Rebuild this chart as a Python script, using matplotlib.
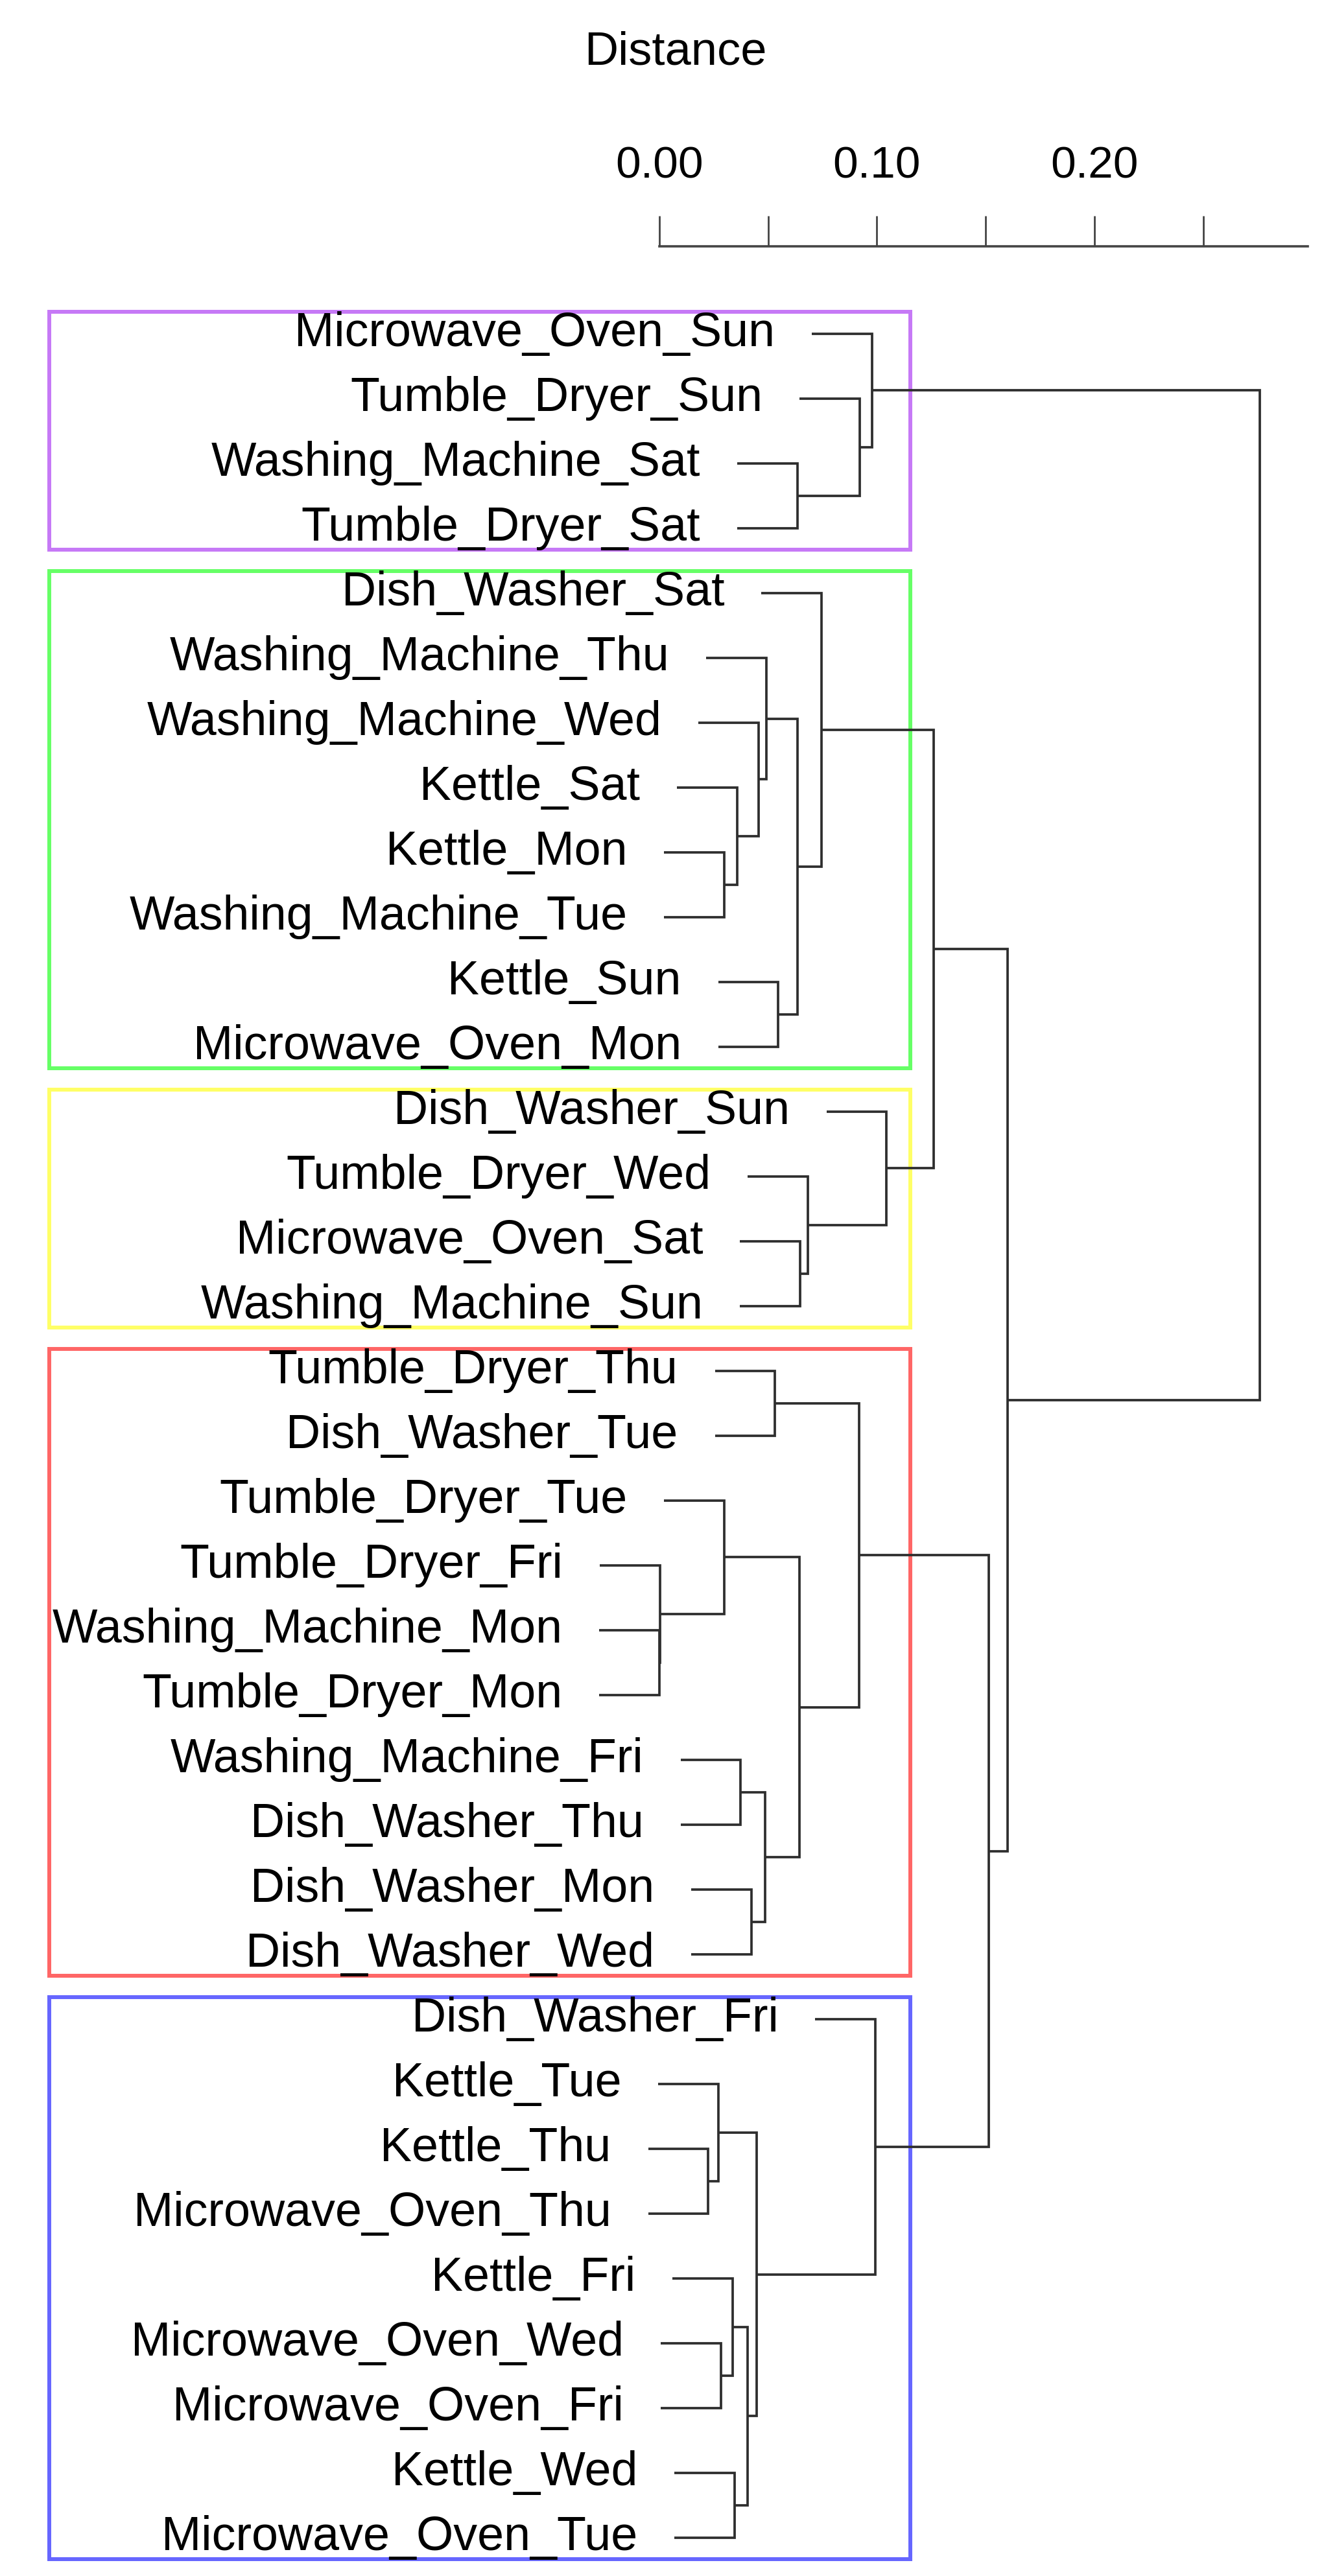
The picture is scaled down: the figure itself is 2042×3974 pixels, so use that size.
import numpy as np
import matplotlib
matplotlib.use("Agg")
import matplotlib.pyplot as plt
from matplotlib.patches import Rectangle
from matplotlib.transforms import offset_copy

plt.rcParams["font.family"] = ["Liberation Sans", "DejaVu Sans"]

# leaves in plotted order (top to bottom)
labels = [
    "Microwave_Oven_Sun", "Tumble_Dryer_Sun", "Washing_Machine_Sat", "Tumble_Dryer_Sat",
    "Dish_Washer_Sat", "Washing_Machine_Thu", "Washing_Machine_Wed", "Kettle_Sat",
    "Kettle_Mon", "Washing_Machine_Tue", "Kettle_Sun", "Microwave_Oven_Mon",
    "Dish_Washer_Sun", "Tumble_Dryer_Wed", "Microwave_Oven_Sat", "Washing_Machine_Sun",
    "Tumble_Dryer_Thu", "Dish_Washer_Tue", "Tumble_Dryer_Tue", "Tumble_Dryer_Fri",
    "Washing_Machine_Mon", "Tumble_Dryer_Mon", "Washing_Machine_Fri", "Dish_Washer_Thu",
    "Dish_Washer_Mon", "Dish_Washer_Wed", "Dish_Washer_Fri", "Kettle_Tue",
    "Kettle_Thu", "Microwave_Oven_Thu", "Kettle_Fri", "Microwave_Oven_Wed",
    "Microwave_Oven_Fri", "Kettle_Wed", "Microwave_Oven_Tue",
]

# hclust style merge table: negative = leaf number (1-based, plotted order),
# positive = row of an earlier merge
merge_a = [-21, -20, -29, -28, -32, -9, -19, -31, -34, -8, -23, 8, -25, 4, -7, 11, -6,
           -17, -11, -3, 17, 7, -15, -14, -5, 18, -2, -1, -27, -13, 25, 26, 31, 28]
merge_b = [-22, 1, -30, 3, -33, -10, 2, 5, -35, 6, -24, 9, -26, 12, 10, 13, 15,
           -18, -12, -4, 19, 16, -16, 23, 21, 22, 20, 27, 14, 24, 30, 29, 32, 33]
heights = [0.0000, 0.0003, 0.0224, 0.0271, 0.0283, 0.0298, 0.0298, 0.0337, 0.0346,
           0.0358, 0.0373, 0.0406, 0.0423, 0.0447, 0.0456, 0.0486, 0.0491, 0.0531,
           0.0547, 0.0635, 0.0635, 0.0645, 0.0647, 0.0683, 0.0745, 0.0917, 0.0921,
           0.0978, 0.0993, 0.1044, 0.1261, 0.1516, 0.1600, 0.2760]

# rect.hclust(k = 5)
cluster_sizes = [4, 8, 4, 10, 9]
cluster_colors = ["#A020F0", "#00FF00", "#FFFF00", "#FF0000", "#0000FF"]
k = len(cluster_sizes)

fig = plt.figure(figsize=(20.42, 39.74), dpi=100)
ax = fig.add_axes([0, 0, 1, 1])
ax.set_xlim(-0.3032, 0.3056)
ax.set_ylim(35.59, -4.15)
ax.patch.set_alpha(0)

hang = 0.1 * max(heights)
line_kw = dict(color="#2e2e2e", lw=2.7, solid_joinstyle="miter", solid_capstyle="butt", zorder=3)

node_y = {}
leaf_x = {}
for i, (a, b, h) in enumerate(zip(merge_a, merge_b, heights), start=1):
    xs, ys = [], []
    for c in (a, b):
        if c < 0:
            y, x0 = -c, h - hang
            leaf_x[-c] = x0
        else:
            y, x0 = node_y[c], heights[c - 1]
        xs.append(x0)
        ys.append(y)
    ax.plot([xs[0], h, h, xs[1]], [ys[0], ys[0], ys[1], ys[1]], **line_kw)
    node_y[i] = (ys[0] + ys[1]) / 2

txt_tr = offset_copy(ax.transData, fig=fig, x=-57, y=-19, units="dots")
for j, lab in enumerate(labels, start=1):
    ax.text(leaf_x[j], j, lab, ha="right", va="baseline", fontsize=53,
            transform=txt_tr, zorder=4)

# cluster boxes
cut = np.mean(sorted(heights)[::-1][k - 2:k])
box_left = -0.2806
start = 1
for size, col in zip(cluster_sizes, cluster_colors):
    ax.add_patch(Rectangle((box_left, start - 0.34), cut - box_left, size - 1 + 0.67,
                           fill=False, edgecolor=col, alpha=0.6, lw=4.3, zorder=2))
    start += size

# distance axis on top
for side in ("left", "right", "bottom"):
    ax.spines[side].set_visible(False)
ax.spines["top"].set_position(("data", -0.35))
ax.spines["top"].set_bounds(0, 0.298)
ax.spines["top"].set_linewidth(2.6)
ax.spines["top"].set_color("#444444")
ax.yaxis.set_visible(False)
ax.xaxis.tick_top()
ax.set_xticks([0.0, 0.1, 0.2])
ax.set_xticklabels(["0.00", "0.10", "0.20"])
ax.set_xticks([0.05, 0.15, 0.25], minor=True)
ax.tick_params(axis="x", which="both", length=33.8, width=2.0, color="#444444",
               direction="out", pad=32, labelsize=50)

fig.text(1042 / 2042, 1 - 100 / 3974, "Distance", ha="center", va="baseline", fontsize=52)

fig.savefig("out.png", dpi=100, facecolor="white")
